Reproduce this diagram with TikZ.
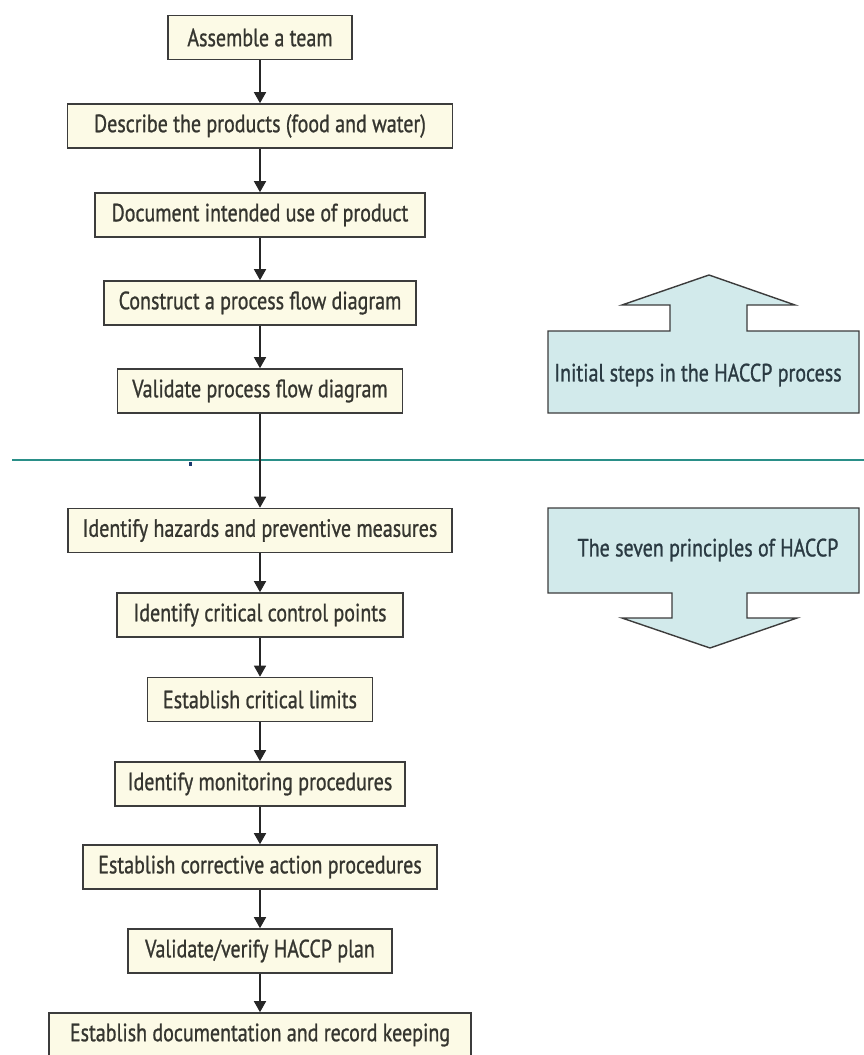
\documentclass[tikz,border=0pt]{standalone}
\usepackage{fontspec}
\setmainfont[FakeStretch=0.8, FakeBold=0.9]{PT Sans}
\usetikzlibrary{arrows.meta}

\definecolor{boxfill}{HTML}{FCFAE6}
\definecolor{boxline}{HTML}{3C3C3C}
\definecolor{textgray}{HTML}{35352F}
\definecolor{bandfill}{HTML}{D2EAEB}
\definecolor{bandtext}{HTML}{2A3A42}
\definecolor{divider}{HTML}{2A8F88}
\definecolor{speck}{HTML}{1C3B6E}

\tikzset{
  stepbox/.style={draw=boxline, line width=1.6pt, fill=boxfill, text=textgray,
    minimum height=44pt, inner sep=0pt, font=\fontsize{25}{27}\selectfont},
  flow/.style={draw=black!85, line width=1.5pt,
    -{Triangle[length=11pt,width=12pt]}},
  band/.style={draw=boxline, line width=1.4pt, fill=bandfill, line join=miter},
  bandlabel/.style={text=bandtext, inner sep=0pt, font=\fontsize{25}{27}\selectfont}
}

\begin{document}
\begin{tikzpicture}[x=1pt, y=-1pt]
\useasboundingbox (0,0) rectangle (864,1055);

% divider between the preliminary steps and the principles
\draw[divider, line width=2.6pt] (12,460) -- (864,460);
\fill[speck] (189,461.5) rectangle (192,465.5);

% preliminary steps
\node[stepbox, minimum width=184pt] (s1) at (260,37.5)  {Assemble a team};
\node[stepbox, minimum width=385pt] (s2) at (260,126)   {Describe the products (food and water)};
\node[stepbox, minimum width=330pt] (s3) at (260,215)   {Document intended use of product};
\node[stepbox, minimum width=312pt] (s4) at (260,303)   {Construct a process flow diagram};
\node[stepbox, minimum width=285pt] (s5) at (260,391)   {Validate process flow diagram};

% the seven principles
\node[stepbox, minimum width=384pt] (p1) at (260,530.5) {Identify hazards and preventive measures};
\node[stepbox, minimum width=286pt] (p2) at (260,615)   {Identify critical control points};
\node[stepbox, minimum width=225pt] (p3) at (260,699.5) {Establish critical limits};
\node[stepbox, minimum width=290pt] (p4) at (260,784)   {Identify monitoring procedures};
\node[stepbox, minimum width=354pt] (p5) at (260,867)   {Establish corrective action procedures};
\node[stepbox, minimum width=264pt] (p6) at (260,951)   {Validate/verify HACCP plan};
\node[stepbox, minimum width=422pt] (p7) at (260,1035)  {Establish documentation and record keeping};

% connectors
\foreach \a/\b in {s1/s2, s2/s3, s3/s4, s4/s5, s5/p1, p1/p2, p2/p3, p3/p4, p4/p5, p5/p6, p6/p7}
  \draw[flow] (\a.south) -- (\b.north);

% upward banner
\draw[band] (548,413) -- (548,331) -- (670,331) -- (670,305) -- (622,305)
  -- (709,275) -- (795,305) -- (747,305) -- (747,331) -- (859,331)
  -- (859,413) -- cycle;
\node[bandlabel] (upl) at (698,375) {Initial steps in the HACCP process};

% downward banner
\draw[band] (548,508) -- (859,508) -- (859,593) -- (747,593) -- (747,618)
  -- (797,618) -- (710,648) -- (622,618) -- (672,618) -- (672,593)
  -- (548,593) -- cycle;
\node[bandlabel] (dnl) at (708,550) {The seven principles of HACCP};
\end{tikzpicture}
\end{document}
